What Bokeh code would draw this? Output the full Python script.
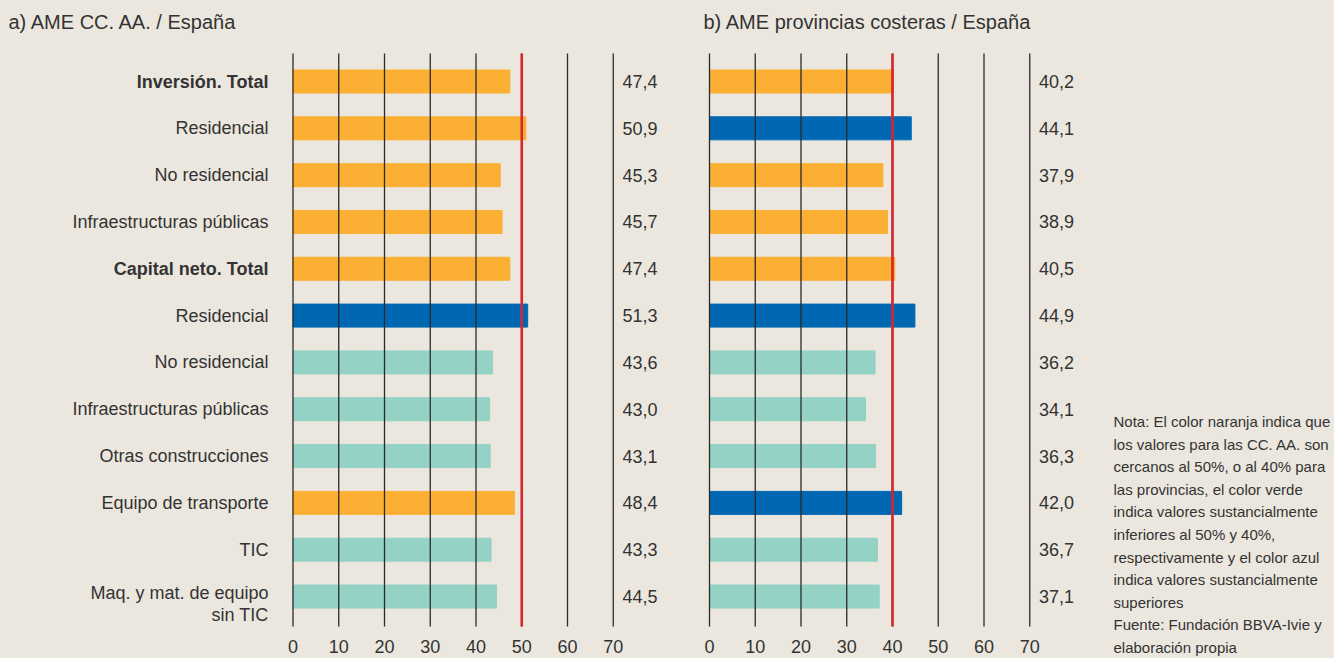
from bokeh.plotting import figure
from bokeh.models import Range1d, ColumnDataSource
from bokeh.layouts import row
from bokeh.embed import file_html
from bokeh.resources import INLINE
from bokeh.core.properties import value

# ---------------- data ----------------
categories = ["Inversión. Total", "Residencial", "No residencial", "Infraestructuras públicas",
              "Capital neto. Total", "Residencial", "No residencial", "Infraestructuras públicas",
              "Otras construcciones", "Equipo de transporte", "TIC",
              "Maq. y mat. de equipo\nsin TIC"]
is_total = [True, False, False, False, True, False, False, False, False, False, False, False]

ccaa_values = [47.4, 50.9, 45.3, 45.7, 47.4, 51.3, 43.6, 43.0, 43.1, 48.4, 43.3, 44.5]
ccaa_class = ["near", "near", "near", "near", "near", "above", "below", "below", "below",
              "near", "below", "below"]

prov_values = [40.2, 44.1, 37.9, 38.9, 40.5, 44.9, 36.2, 34.1, 36.3, 42.0, 36.7, 37.1]
prov_class = ["near", "above", "near", "near", "near", "above", "below", "below", "below",
              "above", "below", "below"]

x_ticks = [0, 10, 20, 30, 40, 50, 60, 70]
ccaa_reference = 50
prov_reference = 40

title_a = "a) AME CC. AA. / España"
title_b = "b) AME provincias costeras / España"

note_lines = [
    "Nota: El color naranja indica que",
    "los valores para las CC. AA. son",
    "cercanos al 50%, o al 40% para",
    "las provincias, el color verde",
    "indica valores sustancialmente",
    "inferiores al 50% y 40%,",
    "respectivamente y el color azul",
    "indica valores sustancialmente",
    "superiores",
    "Fuente: Fundación BBVA-Ivie y",
    "elaboración propia",
]

# ---------------- styles / geometry ----------------
BG = "#EBE7DE"
TXT = "#333333"
GRID = "#2A2A2A"
RED = "#D8262E"
class_colors = {"near": "#FBB034", "above": "#0068B3", "below": "#93D2C5"}
FONT = "Liberation Sans"

H = 658            # figure height
PX = 4.575         # pixels per x unit
ROW = 46.82        # pixels per row
ROW0 = 81          # pixel position of first row centre from figure top
BAR_H = 23 / ROW

y_top = -ROW0 / ROW
y_bottom = (H - ROW0) / ROW
grid_top = (53 - ROW0) / ROW
grid_bottom = (626 - ROW0) / ROW
tick_label_y = (646 - ROW0) / ROW
title_y = (21 - ROW0) / ROW

rows = list(range(len(categories)))


def fmt(v):
    return f"{v:.1f}".replace(".", ",")


def make_panel(width, zero_px, title_px, values, classes, reference, title, with_labels):
    x_start = -zero_px / PX
    x_end = (width - zero_px) / PX
    p = figure(width=width, height=H, output_backend="svg", toolbar_location=None,
               x_range=Range1d(x_start, x_end), y_range=Range1d(y_bottom, y_top),
               x_axis_location=None, y_axis_location=None, min_border=0)
    p.background_fill_color = BG
    p.border_fill_color = BG
    p.outline_line_color = None
    p.xgrid.visible = False
    p.ygrid.visible = False

    src = ColumnDataSource(dict(y=rows, v=values, color=[class_colors[c] for c in classes],
                                label=[fmt(v) for v in values]))
    p.hbar(y="y", left=0, right="v", height=BAR_H, color="color", source=src)

    # vertical grid lines
    n = len(x_ticks)
    p.segment(x0=x_ticks, x1=x_ticks, y0=[grid_top] * n, y1=[grid_bottom] * n,
              line_color=GRID, line_width=1.3)
    # reference line
    p.segment(x0=[reference], x1=[reference], y0=[grid_top], y1=[grid_bottom],
              line_color=RED, line_width=2.6)

    # value labels
    p.text(x=72.0, y="y", text="label", source=src, text_font=value(FONT),
           text_font_size="18px", text_color=TXT, text_align="left", text_baseline="middle")

    # x tick labels
    p.text(x=x_ticks, y=[tick_label_y] * n, text=[str(t) for t in x_ticks],
           text_font=value(FONT), text_font_size="18px", text_color=TXT,
           text_align="center", text_baseline="middle")

    # title
    p.text(x=[(title_px - zero_px) / PX], y=[title_y], text=[title],
           text_font=value(FONT), text_font_size="20px", text_color=TXT,
           text_align="left", text_baseline="middle")

    if with_labels:
        lab_y = [i + (7.5 / ROW if "\n" in c else 0) for i, c in zip(rows, categories)]
        lsrc = ColumnDataSource(dict(y=lab_y, text=categories,
                                     style=["bold" if b else "normal" for b in is_total]))
        p.text(x=(268 - zero_px) / PX, y="y", text="text", source=lsrc, text_font=value(FONT),
               text_font_size="18px", text_font_style="style", text_color=TXT,
               text_align="right", text_baseline="middle", text_line_height=1.1)
    return p


p1 = make_panel(690, 292.5, 8, ccaa_values, ccaa_class, ccaa_reference, title_a, True)
p2 = make_panel(410, 19, 13, prov_values, prov_class, prov_reference, title_b, False)

# note panel
NOTE_W = 234
NOTE_LINE = 22.6
NOTE_TOP = 421
NOTE_LEFT = 13
p3 = figure(width=NOTE_W, height=H, output_backend="svg", toolbar_location=None,
            x_range=Range1d(-NOTE_LEFT, NOTE_W - NOTE_LEFT),
            y_range=Range1d((H - NOTE_TOP) / NOTE_LINE, -NOTE_TOP / NOTE_LINE),
            x_axis_location=None, y_axis_location=None, min_border=0)
p3.background_fill_color = BG
p3.border_fill_color = BG
p3.outline_line_color = None
p3.xgrid.visible = False
p3.ygrid.visible = False
p3.text(x=[0] * len(note_lines), y=list(range(len(note_lines))), text=note_lines,
        text_font=value(FONT), text_font_size="15px", text_color=TXT,
        text_align="left", text_baseline="middle")

layout = row(p1, p2, p3)
layout.styles = {"background-color": BG}

open("out.html", "w").write(file_html(layout, INLINE))
